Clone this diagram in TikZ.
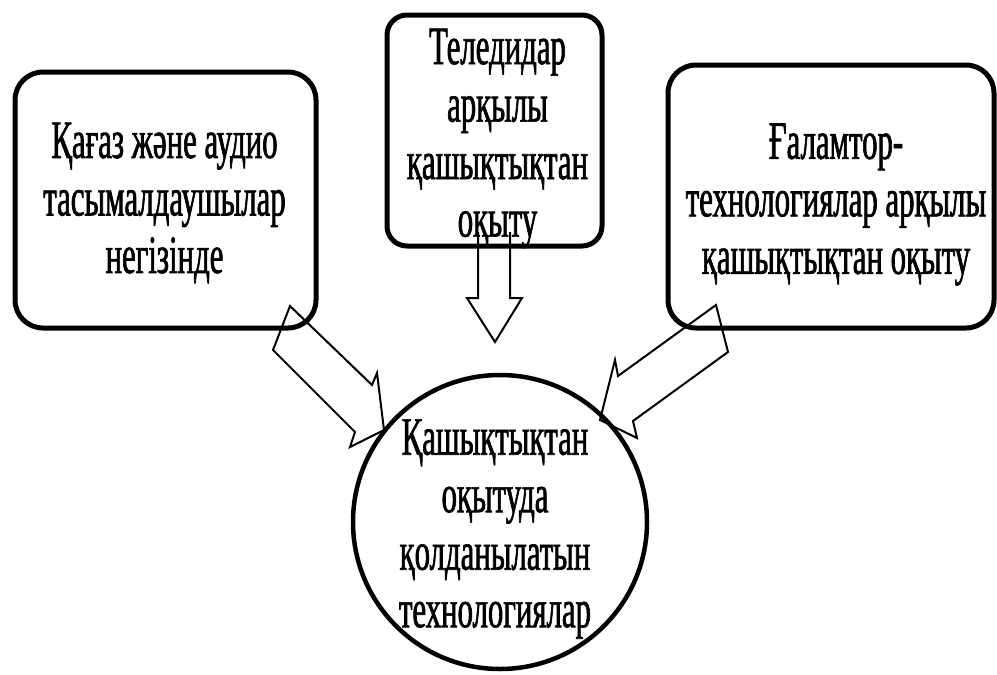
\documentclass[tikz,border=0pt]{standalone}
\usepackage{fontspec}
\setmainfont{Liberation Serif}
\newfontfamily\cf[FakeStretch=0.57,FakeBold=1.2]{Liberation Serif}
\begin{document}
\begin{tikzpicture}[x=1pt,y=-1pt,
  box/.style={draw, line width=5pt, inner sep=0pt},
  circ/.style={draw, circle, line width=4.5pt, inner sep=0pt, minimum size=294pt},
  txt/.style={inner sep=0pt, align=center, font=\cf\fontsize{54}{57.5}\selectfont},
  barrow/.style={draw, line width=2pt, line join=miter}]
\useasboundingbox (0,0) rectangle (997,675);
\fill[white] (0,0) rectangle (997,675);

\node[box, rounded corners=28pt, minimum width=301pt, minimum height=256pt] (paper) at (165.5,200) {};
\node[txt] (paper-t) at ([xshift=-1pt,yshift=-3pt]paper.center)
  {Қағаз және аудио\\тасымалдаушылар\\негізінде};
\node[box, rounded corners=20pt, minimum width=215pt, minimum height=231pt] (tv) at (494.5,130.5) {};
\node[txt] (tv-t) at ([xshift=3pt,yshift=-8pt]tv.center)
  {Теледидар\\арқылы\\қашықтықтан\\оқыту};
\node[box, rounded corners=28pt, minimum width=326pt, minimum height=263pt] (net) at (831,196.5) {};
\node[txt] (net-t) at ([xshift=5pt,yshift=-8pt]net.center)
  {Ғаламтор-\\технологиялар арқылы\\қашықтықтан оқыту};
\node[circ] (tech) at (500,522) {};
\node[txt] (tech-t) at ([xshift=-5pt,yshift=-7pt]tech.center)
  {Қашықтықтан\\оқытуда\\қолданылатын\\технологиялар};

% block arrows
\coordinate (lA) at (290,306); \coordinate (lB) at (273,350); \coordinate (lT) at (384,430);
\draw[barrow] (lA) -- (372,385) -- (377,373) -- (lT) -- (350,447) -- (355,432) -- (lB) -- cycle;
\coordinate (rA) at (716,305); \coordinate (rB) at (728,352); \coordinate (rT) at (600,420);
\draw[barrow] (rA) -- (618,376) -- (615,360) -- (rT) -- (637,438) -- (633,421) -- (rB) -- cycle;
\coordinate (mA) at (478,232); \coordinate (mB) at (510,232); \coordinate (mT) at (495,342);
\draw[barrow] (mA) -- (478,298) -- (467,298) -- (mT) -- (522,298) -- (510,298) -- (mB);
\end{tikzpicture}
\end{document}
